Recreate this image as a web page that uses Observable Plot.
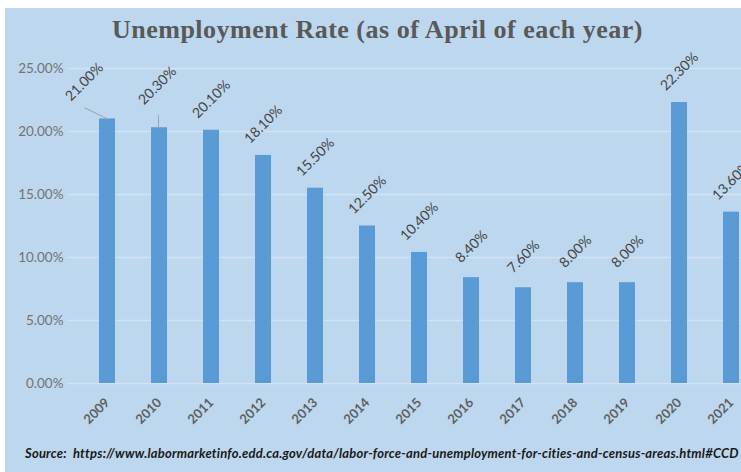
<!DOCTYPE html>
<html><head><meta charset="utf-8">
<script src="https://cdn.jsdelivr.net/npm/d3@7"></script>
<script src="https://cdn.jsdelivr.net/npm/@observablehq/plot@0.6"></script>
<style>
html,body{margin:0;padding:0;background:#fff;}
#page{position:relative;width:741px;height:472px;overflow:hidden;background:#fff;}
#panel{position:absolute;left:5px;top:8px;width:736px;height:464px;background:#bdd7ee;}
#title{position:absolute;left:7px;top:17px;width:741px;text-align:center;font-family:"Liberation Serif",serif;font-weight:bold;font-size:26px;line-height:26px;letter-spacing:0.5px;color:#595959;white-space:nowrap;}
#chart{position:absolute;left:0;top:0;}
#source{position:absolute;left:25px;top:447px;font-family:Lato,sans-serif;font-weight:bold;font-style:italic;font-size:13px;line-height:13px;letter-spacing:0.2px;color:#1a1a1a;white-space:nowrap;}
</style>
</head><body>
<div id="page">
  <div id="panel"></div>
  <div id="title">Unemployment Rate (as of April of each year)</div>
  <div id="chart"></div>
  <div id="source">Source:&nbsp; https://www.labormarketinfo.edd.ca.gov/data/labor-force-and-unemployment-for-cities-and-census-areas.html#CCD</div>
</div>
<script>
const years = ["2009","2010","2011","2012","2013","2014","2015","2016","2017","2018","2019","2020","2021"];
const rates = [21.00, 20.30, 20.10, 18.10, 15.50, 12.50, 10.40, 8.40, 7.60, 8.00, 8.00, 22.30, 13.60];
const yTicks = [0, 5, 10, 15, 20, 25];

const data = years.map((year, i) => ({year, rate: rates[i] / 100}));
const fmt = d3.format(".2%");
const normal = data.filter(d => d.year !== "2009" && d.year !== "2010");
const first = data.filter(d => d.year === "2009");
const second = data.filter(d => d.year === "2010");

const labelStyle = {fontFamily: "Lato, sans-serif", fontSize: 14, fill: "#454545", rotate: -45, textAnchor: "middle"};

const chart = Plot.plot({
  width: 741,
  height: 440,
  marginLeft: 68,
  marginRight: 0,
  marginTop: 68,
  marginBottom: 57,
  style: {background: "transparent", fontFamily: "Lato, sans-serif", overflow: "hidden"},
  x: {domain: years, range: [63, 776], padding: 0.69, label: null},
  y: {domain: [0, 0.25], label: null},
  marks: [
    Plot.gridY(yTicks.map(t => t / 100), {stroke: "#d3e3f3", strokeOpacity: 1, strokeWidth: 1.5}),
    Plot.barY(data, {x: "year", y: "rate", fill: "#5b9bd5"}),
    Plot.axisY(yTicks.map(t => t / 100), {tickFormat: fmt, tickSize: 0, tickPadding: 5, fontSize: 13.5, fill: "#737373", fontFamily: "Lato, sans-serif"}),
    Plot.axisX({tickSize: 0, tickPadding: 17, tickRotate: -45, fontSize: 13, fontWeight: "bold", fill: "#5f5f5f", fontFamily: "Lato, sans-serif"}),
    Plot.text(normal, {x: "year", y: "rate", text: d => fmt(d.rate), dy: -31, ...labelStyle}),
    Plot.text(first, {x: "year", y: "rate", text: d => fmt(d.rate), dx: -23, dy: -37, ...labelStyle}),
    Plot.text(second, {x: "year", y: "rate", text: d => fmt(d.rate), dx: -2, dy: -42, ...labelStyle}),
    Plot.vector(first, {x: "year", y: "rate", anchor: "start", length: 25, rotate: -64, stroke: "#9aa7b3", strokeWidth: 1,
      shape: {draw(context, l) { context.moveTo(0, 0); context.lineTo(0, -l); }}}),
    Plot.vector(second, {x: "year", y: "rate", anchor: "start", length: 12, rotate: 0, dx: -1, stroke: "#9aa7b3", strokeWidth: 1,
      shape: {draw(context, l) { context.moveTo(0, 0); context.lineTo(0, -l); }}})
  ]
});
document.getElementById("chart").appendChild(chart);
</script>
</body></html>
